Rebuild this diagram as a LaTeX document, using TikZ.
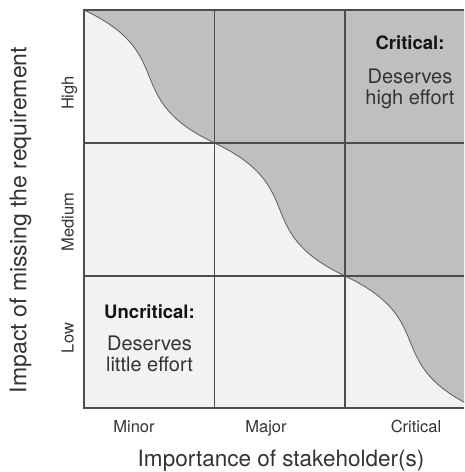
\documentclass[tikz,border=0pt]{standalone}
\usepackage{fontspec}
\setmainfont{TeX Gyre Heros}

\definecolor{lightcell}{HTML}{F2F2F2}
\definecolor{darkcell}{HTML}{BFBFBF}
\definecolor{gridline}{HTML}{4D4D4D}
\definecolor{curveline}{HTML}{5E5E5E}
\definecolor{labeltext}{HTML}{333333}
\definecolor{headtext}{HTML}{141414}

\begin{document}
\begin{tikzpicture}[x=1pt,y=-1pt]
  \useasboundingbox (0,0) rectangle (464,472);
  % cells and the dividing curve
  \begin{scope}
    \clip (84,10) rectangle (464,408);
    \fill[lightcell] (84,10) rectangle (475.5,408);
    \fill[darkcell] (84,10) .. controls +(95,45) and +(-95,-45) .. (214.5,143)
      .. controls +(95,45) and +(-95,-45) .. (345,276)
      .. controls +(95,45) and +(-95,-45) .. (475.5,408) -- (475.5,10) -- cycle;
    \draw[curveline,line width=0.8pt] (84,10) .. controls +(95,45) and +(-95,-45) .. (214.5,143)
      .. controls +(95,45) and +(-95,-45) .. (345,276)
      .. controls +(95,45) and +(-95,-45) .. (475.5,408);
  \end{scope}
  % grid
  \draw[gridline,line width=1.2pt] (464,10) -- (84,10) -- (84,408) -- (464,408);
  \draw[gridline,line width=1.1pt] (214.5,10) -- (214.5,408);
  \draw[gridline,line width=1.1pt] (345,10) -- (345,408);
  \draw[gridline,line width=1.1pt] (84,143) -- (464,143);
  \draw[gridline,line width=1.1pt] (84,276) -- (464,276);
  % axis titles
  \node[rotate=90,anchor=base,text=labeltext,font=\fontsize{23}{27}\selectfont] (impact) at (26.5,220) {Impact of missing the requirement};
  \node[anchor=base,text=labeltext,font=\fontsize{22.5}{27}\selectfont] (importance) at (281,466.5) {Importance of stakeholder(s)};
  % tick labels
  \node[rotate=90,anchor=base,text=labeltext,font=\fontsize{16.5}{20}\selectfont] (high) at (73.5,93) {High};
  \node[rotate=90,anchor=base,text=labeltext,font=\fontsize{16.5}{20}\selectfont] (medium) at (73.5,222) {Medium};
  \node[rotate=90,anchor=base,text=labeltext,font=\fontsize{16.5}{20}\selectfont] (low) at (73.5,338) {Low};
  \node[anchor=base,text=labeltext,font=\fontsize{16.5}{20}\selectfont] (minor) at (134,432) {Minor};
  \node[anchor=base,text=labeltext,font=\fontsize{16.5}{20}\selectfont] (major) at (266,432) {Major};
  \node[anchor=base,text=labeltext,font=\fontsize{16.5}{20}\selectfont] (critical) at (416,432) {Critical};
  % quadrant notes
  \node[anchor=base,text=headtext,font=\bfseries\fontsize{18.5}{22}\selectfont] (crithead) at (410,49) {Critical:};
  \node[anchor=base,text=labeltext,font=\fontsize{20}{21}\selectfont] (critline1) at (410,83.3) {Deserves};
  \node[anchor=base,text=labeltext,font=\fontsize{20}{21}\selectfont] (critline2) at (410,104) {high effort};
  \node[anchor=base,text=headtext,font=\bfseries\fontsize{18.5}{22}\selectfont] (unchead) at (149.5,318.3) {Uncritical:};
  \node[anchor=base,text=labeltext,font=\fontsize{20}{21}\selectfont] (uncline1) at (149.5,350) {Deserves};
  \node[anchor=base,text=labeltext,font=\fontsize{20}{21}\selectfont] (uncline2) at (149.5,371.7) {little effort};
\end{tikzpicture}
\end{document}
